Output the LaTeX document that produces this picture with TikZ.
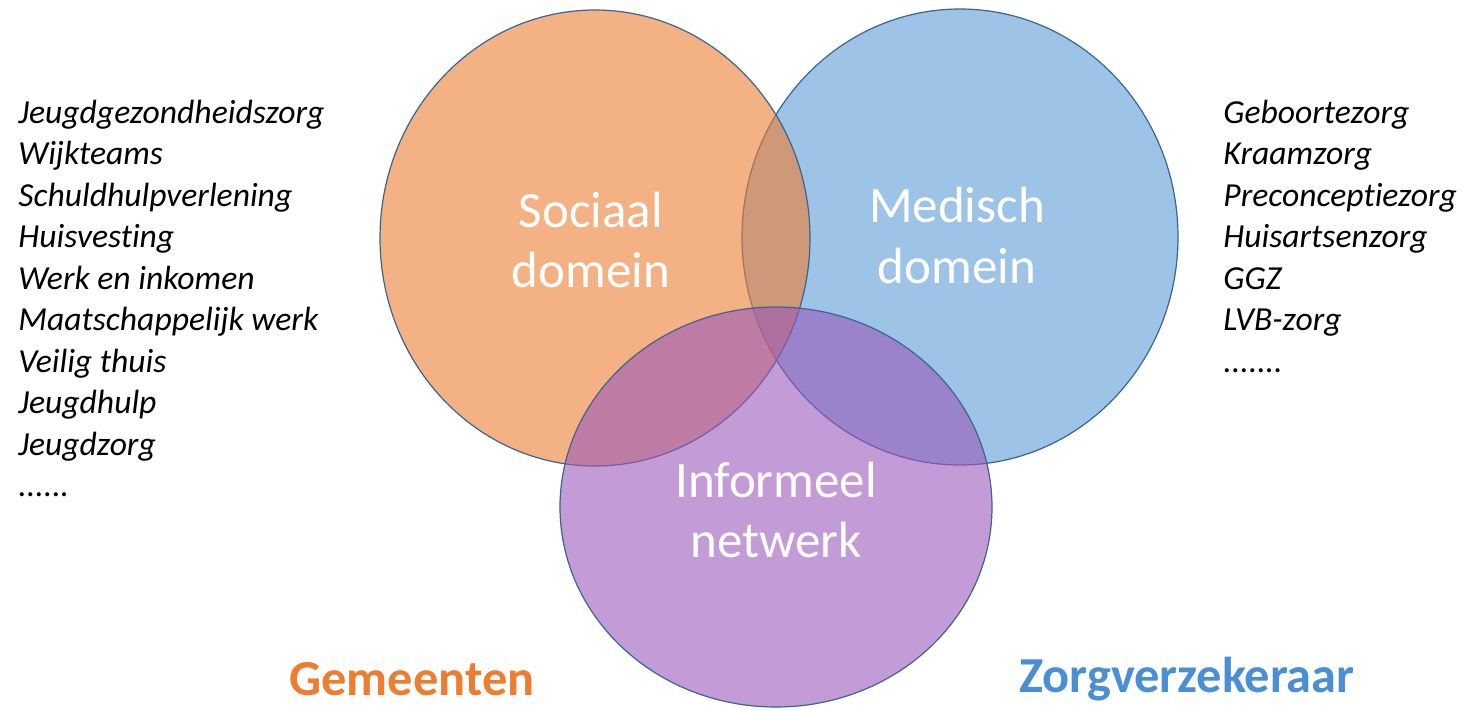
\documentclass[tikz,border=0pt]{standalone}
\usepackage{fontspec}
\setmainfont{Carlito}[Ligatures=NoCommon]
\definecolor{orangeC}{HTML}{ED7D31}
\definecolor{blueC}{HTML}{5B9BD5}
\definecolor{purpleC}{HTML}{9B58BB}
\definecolor{outlineC}{HTML}{3A6494}
\definecolor{zorgC}{HTML}{4A8FD6}
\newcommand\mysixdots{......}
\newcommand\mysevendots{.......}
\tikzset{
  venn/.style={fill opacity=0.6, draw=outlineC, line width=0.6pt},
  biglabel/.style={anchor=base, text=white, inner sep=0pt, font=\fontsize{25.5pt}{30pt}\selectfont},
  listitem/.style={anchor=base west, inner sep=0pt, font=\fontsize{16.8pt}{20pt}\selectfont\itshape},
  payer/.style={anchor=base, inner sep=0pt, font=\fontsize{25.2pt}{30pt}\selectfont\bfseries}
}
\begin{document}
\begin{tikzpicture}[x=0.5pt,y=-0.5pt]
\useasboundingbox (0,0) rectangle (1463,709);
% circles
\draw[venn, fill=blueC] (960,237) ellipse [x radius=109pt, y radius=114pt];
\draw[venn, fill=orangeC] (595,238) ellipse [x radius=107.5pt, y radius=114pt];
\draw[venn, fill=purpleC] (776,507) ellipse [x radius=108pt, y radius=100pt];
% labels in circles
\node[biglabel] (s1) at (591,227) {Sociaal};
\node[biglabel] (s2) at (591,287) {domein};
\node[biglabel] (m1) at (957,222) {Medisch};
\node[biglabel] (m2) at (957,283) {domein};
\node[biglabel] (i1) at (776,497) {Informeel};
\node[biglabel] (i2) at (776,557) {netwerk};
% left list
\foreach \t [count=\i from 0] in {Jeugdgezondheidszorg, Wijkteams, Schuldhulpverlening, Huisvesting, Werk en inkomen, Maatschappelijk werk, Veilig thuis, Jeugdhulp, Jeugdzorg, \mysixdots}
  \node[listitem] (L\i) at ({18},{123+41.5*\i}) {\t};
% right list
\foreach \t [count=\i from 0] in {Geboortezorg, Kraamzorg, Preconceptiezorg, Huisartsenzorg, GGZ, LVB-zorg, \mysevendots}
  \node[listitem] (R\i) at ({1223},{123+41.5*\i}) {\t};
% payers
\node[payer, text=orangeC] (gem) at (412,695) {Gemeenten};
\node[payer, text=zorgC] (zorg) at (1187,692) {Zorgverzekeraar};
\end{tikzpicture}
\end{document}
